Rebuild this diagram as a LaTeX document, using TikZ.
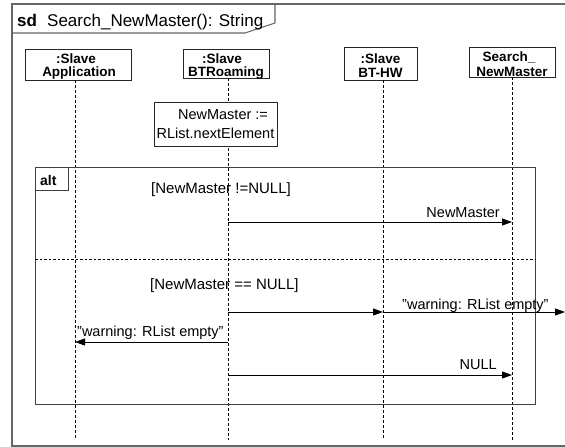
\documentclass[tikz,border=0pt]{standalone}
\usepackage{fontspec}
\setmainfont{Liberation Sans}
\usetikzlibrary{arrows.meta}
\tikzset{
  frm/.style={draw=black!60, line width=1.1pt},
  altfrm/.style={draw=black!75, line width=0.9pt, inner sep=0pt},
  lifebox/.style={draw=black!85, line width=0.9pt, fill=white, inner sep=0pt},
  lifetxt/.style={font=\fontsize{13.5}{15}\selectfont\bfseries, anchor=base, inner sep=0pt},
  msgtxt/.style={font=\fontsize{14.5}{17}\selectfont, inner sep=0pt},
  guardtxt/.style={font=\fontsize{15}{17}\selectfont, inner sep=0pt, anchor=base west},
  lifeline/.style={draw=black, line width=0.8pt, dash pattern=on 3pt off 2pt},
  sepline/.style={draw=black, line width=0.8pt, dash pattern=on 2.5pt off 2pt},
  msg/.style={draw=black, line width=0.9pt, -{Triangle[length=10pt,width=7pt]}},
}
\begin{document}
\begin{tikzpicture}[x=1pt,y=-1pt]
\useasboundingbox (0,0) rectangle (565,447);
\clip (0,0) rectangle (565,447);

% outer frame
\draw[frm] (580,4) -- (12,4) -- (12,446) -- (580,446);
\draw[frm] (12,33) -- (245,33) -- (275,23) -- (275,4);
\node[font=\fontsize{17}{20}\selectfont\bfseries, anchor=base west, inner sep=0pt] (sd) at (17,27) {sd};
\node[font=\fontsize{17}{20}\selectfont, anchor=base west, inner sep=0pt] (title) at (47,27) {Search\_NewMaster(): String};

% lifeline ends
\coordinate (e1) at (75,440);
\coordinate (e2) at (228,440);
\coordinate (e3) at (383,440);
\coordinate (e4) at (512,440);

% lifeline heads
\node[lifebox, minimum width=106pt, minimum height=31pt] (b1) at (78,64.5) {};
\node[lifebox, minimum width=86pt, minimum height=29pt] (b2) at (226,63.5) {};
\node[lifebox, minimum width=73pt, minimum height=33pt] (b3) at (380.5,63.5) {};
\node[lifebox, minimum width=86pt, minimum height=30pt] (b4) at (512,62) {};

% lifelines
\draw[lifeline] (b1.south -| e1) -- (e1);
\draw[lifeline] (b2.south -| e2) -- (e2);
\draw[lifeline] (b3.south -| e3) -- (e3);
\draw[lifeline] (b4.south -| e4) -- (e4);

\node[lifetxt] (t1a) at (76,63) {:Slave};
\node[lifetxt] (t1b) at (79,76.5) {Application};
\node[lifetxt] (t2a) at (222,63) {:Slave};
\node[lifetxt] (t2b) at (226,76.5) {BTRoaming};
\node[lifetxt] (t3a) at (380.5,63) {:Slave};
\node[lifetxt] (t3b) at (380.5,77.5) {BT-HW};
\node[lifetxt] (t4a) at (509,61) {Search\_};
\node[lifetxt] (t4b) at (512,76) {NewMaster};

% assignment box
\node[lifebox, minimum width=123pt, minimum height=44pt] (nm) at (215.5,124) {};
\node[msgtxt, anchor=base] (nm1) at (223,119) {NewMaster :=};
\node[msgtxt, anchor=base] (nm2) at (215.5,138) {RList.nextElement};

% alt fragment
\node[altfrm, minimum width=500pt, minimum height=237pt] (alt) at (285,285.5) {};
\node[altfrm, minimum width=33pt, minimum height=23pt, fill=white] (alttab) at (51.5,178.5) {};
\node[font=\fontsize{14}{16}\selectfont\bfseries, anchor=base west, inner sep=0pt] (alttxt) at (40,185) {alt};
\coordinate (sepl) at (35,259);
\coordinate (sepr) at (535,259);
\draw[sepline] (sepl) -- (sepr);

\node[guardtxt] (g1) at (151,193) {[NewMaster !=NULL]};
\node[guardtxt] (g2) at (150,289) {[NewMaster == NULL]};

% message coordinates
\coordinate (m1s) at (228,222);
\coordinate (m1e) at (512,222);
\coordinate (m2s) at (228,312);
\coordinate (m2e) at (383,312);
\coordinate (m3s) at (383,312);
\coordinate (m3e) at (565,312);
\coordinate (m4s) at (228,342);
\coordinate (m4e) at (75,342);
\coordinate (m5s) at (228,375);
\coordinate (m5e) at (512,375);

\draw[msg] (m1s) -- (m1e);
\draw[msg] (m2s) -- (m2e);
\draw[msg] (m3s) -- (m3e);
\draw[msg] (m4s) -- (m4e);
\draw[msg] (m5s) -- (m5e);

\node[msgtxt, anchor=base east] (l1) at (500,217) {NewMaster};
\node[msgtxt, anchor=base west] (l3) at (402,309) {"warning: RList empty"};
\node[msgtxt, anchor=base west] (l4) at (77,336) {"warning: RList empty"};
\node[msgtxt, anchor=base east] (l5) at (497,369) {NULL};
\end{tikzpicture}
\end{document}
